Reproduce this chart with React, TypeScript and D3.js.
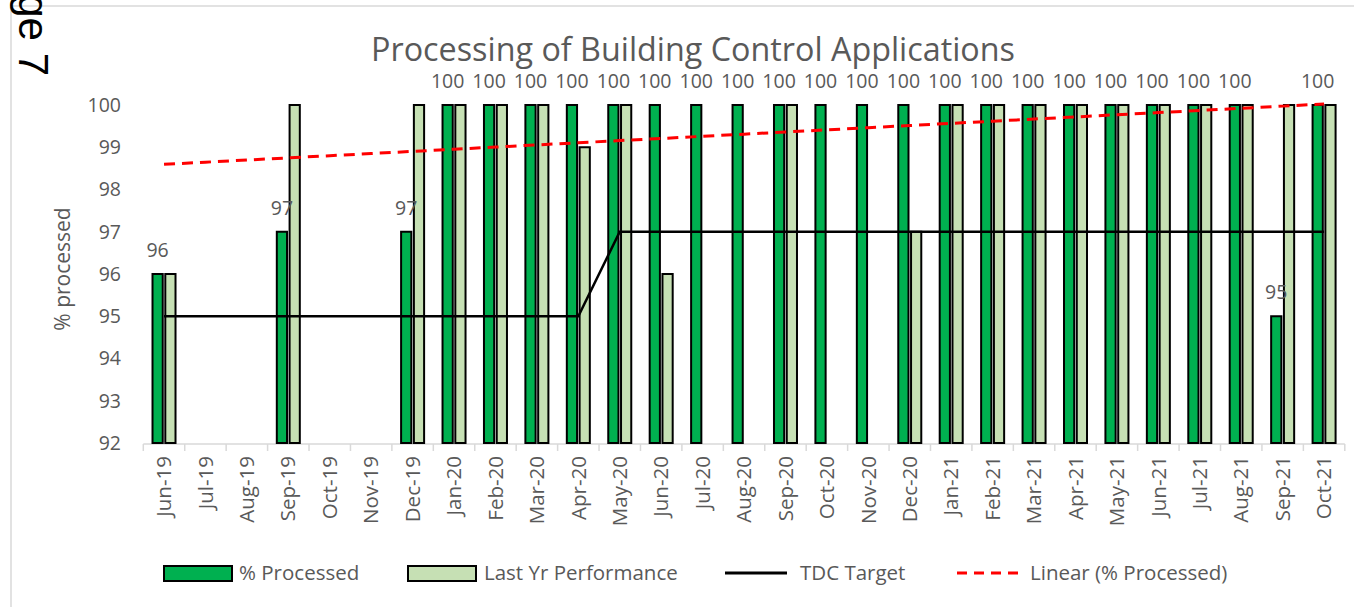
import * as d3 from "d3";

const months = [
  "Jun-19", "Jul-19", "Aug-19", "Sep-19", "Oct-19", "Nov-19", "Dec-19",
  "Jan-20", "Feb-20", "Mar-20", "Apr-20", "May-20", "Jun-20", "Jul-20",
  "Aug-20", "Sep-20", "Oct-20", "Nov-20", "Dec-20", "Jan-21", "Feb-21",
  "Mar-21", "Apr-21", "May-21", "Jun-21", "Jul-21", "Aug-21", "Sep-21", "Oct-21",
];

const processed: (number | null)[] = [
  96, null, null, 97, null, null, 97, 100, 100, 100, 100, 100, 100, 100,
  100, 100, 100, 100, 100, 100, 100, 100, 100, 100, 100, 100, 100, 95, 100,
];

const lastYear: (number | null)[] = [
  96, null, null, 100, null, null, 100, 100, 100, 100, 99, 100, 96, null,
  null, 100, null, null, 97, 100, 100, 100, 100, 100, 100, 100, 100, 100, 100,
];

const tdcTarget = [
  95, 95, 95, 95, 95, 95, 95, 95, 95, 95, 95, 97, 97, 97,
  97, 97, 97, 97, 97, 97, 97, 97, 97, 97, 97, 97, 97, 97, 97,
];

const yTicks = [92, 93, 94, 95, 96, 97, 98, 99, 100];
const seriesNames = ["% Processed", "Last Yr Performance"];
const legendLabels = ["% Processed", "Last Yr Performance", "TDC Target", "Linear (% Processed)"];

const W = 1354;
const H = 607;
const FONT = "'Open Sans', sans-serif";
const GREY = "#595959";
const GREEN = "#00B050";
const LIGHT = "#C6E0B4";

export default function App() {
  const x = d3.scaleBand<string>().domain(months).range([143.3, 1344.8]).padding(0);
  const xs = d3.scaleBand<string>().domain(seriesNames).range([-11.5, 11.5]).paddingInner(0.2);
  const y = d3.scaleLinear().domain([92, 100]).range([443, 105]);
  const cx = (m: string) => (x(m) ?? 0) + x.bandwidth() / 2;

  // linear trend of % processed over month index (least squares)
  const pts = processed
    .map((v, i) => [i, v] as [number, number | null])
    .filter(d => d[1] != null) as [number, number][];
  const mx = d3.mean(pts, d => d[0])!;
  const my = d3.mean(pts, d => d[1])!;
  const slope =
    d3.sum(pts, d => (d[0] - mx) * (d[1] - my)) / d3.sum(pts, d => (d[0] - mx) ** 2);
  const icpt = my - slope * mx;
  const trend = months.map((m, i) => [cx(m), y(icpt + slope * i)] as [number, number]);

  const targetLine = d3.line<number>()
    .x((_, i) => cx(months[i]))
    .y(d => y(d))(tdcTarget)!;

  const bars = [
    { name: seriesNames[0], values: processed, fill: GREEN },
    { name: seriesNames[1], values: lastYear, fill: LIGHT },
  ];

  const legendX = [164, 408, 725, 957];
  const legendTextX = [239, 484, 800, 1030];
  const ly = 573;

  return (
    <svg width={W} height={H} style={{ position: "absolute", left: 0, top: 0 }}
      fontFamily={FONT}>
      <rect x={0} y={0} width={W} height={H} fill="#fff" />
      <rect x={11} y={6} width={W + 40} height={H + 40} fill="none" stroke="#D9D9D9" strokeWidth={1.5} />

      <text x={693} y={61} textAnchor="middle" fontSize={32.3} fill={GREY}>
        Processing of Building Control Applications
      </text>

      {/* y axis */}
      {yTicks.map(t => (
        <text key={t} x={121} y={y(t)} dy="0.35em" textAnchor="end" fontSize={19.5} fill={GREY}>
          {t}
        </text>
      ))}
      <text transform={`translate(63,269) rotate(-90)`} textAnchor="middle" dy="0.35em"
        fontSize={21} fill={GREY}>% processed</text>

      {/* x axis */}
      <line x1={x.range()[0]} x2={x.range()[1]} y1={444} y2={444} stroke="#D9D9D9" strokeWidth={1.5} />
      {months.map(m => (
        <line key={m} x1={x(m)!} x2={x(m)!} y1={444} y2={451} stroke="#D9D9D9" strokeWidth={1.5} />
      ))}
      <line x1={x.range()[1]} x2={x.range()[1]} y1={444} y2={451} stroke="#D9D9D9" strokeWidth={1.5} />
      {months.map(m => (
        <text key={m} transform={`translate(${cx(m)},456) rotate(-90)`} textAnchor="end"
          dy="0.35em" fontSize={20.5} fill={GREY}>{m}</text>
      ))}

      {/* bars */}
      {bars.map(s => (
        <g key={s.name}>
          {s.values.map((v, i) =>
            v == null ? null : (
              <rect key={i} x={cx(months[i]) + xs(s.name)!} y={y(v)} width={xs.bandwidth()}
                height={y(92) - y(v)} fill={s.fill} stroke="#000" strokeWidth={2} />
            )
          )}
        </g>
      ))}

      <path d={targetLine} fill="none" stroke="#000" strokeWidth={2.5} />
      <path d={d3.line()(trend)!} fill="none" stroke="#FF0000" strokeWidth={3} strokeDasharray="11 7" />

      {/* data labels */}
      {processed.map((v, i) =>
        v == null ? null : (
          <text key={i} x={cx(months[i]) + xs(seriesNames[0])! + xs.bandwidth() / 2} y={y(v) - 17}
            textAnchor="middle" fontSize={19.5} fill={GREY}>{v}</text>
        )
      )}

      {/* legend */}
      <rect x={legendX[0]} y={ly - 7} width={68} height={15} fill={GREEN} stroke="#000" strokeWidth={2} />
      <rect x={legendX[1]} y={ly - 7} width={68} height={15} fill={LIGHT} stroke="#000" strokeWidth={2} />
      <line x1={legendX[2]} x2={legendX[2] + 62} y1={ly} y2={ly} stroke="#000" strokeWidth={3} />
      <line x1={legendX[3]} x2={legendX[3] + 62} y1={ly} y2={ly} stroke="#FF0000" strokeWidth={3} strokeDasharray="10 7" />
      {legendLabels.map((l, i) => (
        <text key={l} x={legendTextX[i]} y={ly} dy="0.35em" fontSize={20.5} fill={GREY}>{l}</text>
      ))}

      <text transform="translate(19,76) rotate(90)" textAnchor="end" fontSize={42}
        fontFamily="'Liberation Sans', Arial, sans-serif" fill="#000">Page 7</text>
    </svg>
  );
}
